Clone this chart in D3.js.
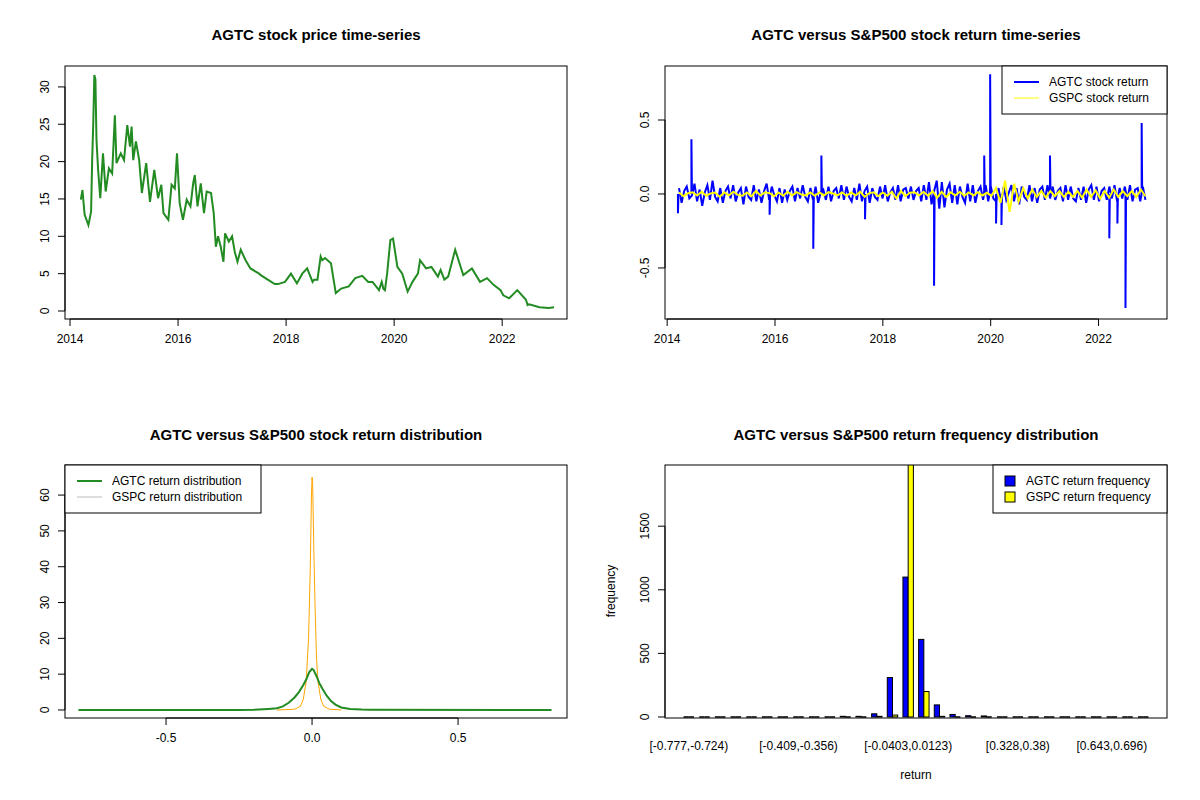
<!DOCTYPE html>
<html><head><meta charset="utf-8">
<script src="https://cdn.jsdelivr.net/npm/d3@7"></script>
<style>body{margin:0;background:#fff}text{font-family:"Liberation Sans",Arial,sans-serif}</style>
</head><body><svg id="c" width="1200" height="800"></svg>
<script>
// price series (year fraction, price)
var priceDates = [2014.2,2014.23,2014.27,2014.34,2014.39,2014.41,2014.43,2014.45,2014.47,2014.49,2014.52,2014.56,2014.61,2014.66,2014.72,2014.78,2014.83,2014.86,2014.94,2015.0,2015.06,2015.11,2015.14,2015.17,2015.22,2015.28,2015.33,2015.41,2015.48,2015.56,2015.63,2015.69,2015.73,2015.82,2015.88,2015.94,2015.98,2016.03,2016.09,2016.16,2016.23,2016.28,2016.31,2016.36,2016.42,2016.48,2016.53,2016.61,2016.66,2016.7,2016.74,2016.79,2016.84,2016.87,2016.94,2017.0,2017.05,2017.1,2017.16,2017.25,2017.34,2017.5,2017.53,2017.66,2017.79,2017.85,2017.98,2018.09,2018.2,2018.3,2018.39,2018.49,2018.52,2018.58,2018.64,2018.67,2018.72,2018.83,2018.92,2019.02,2019.16,2019.28,2019.41,2019.52,2019.6,2019.72,2019.77,2019.8,2019.83,2019.87,2019.93,2019.98,2020.06,2020.15,2020.25,2020.34,2020.44,2020.48,2020.59,2020.69,2020.81,2020.86,2020.93,2021.0,2021.13,2021.28,2021.44,2021.59,2021.72,2021.84,2021.97,2022.02,2022.13,2022.28,2022.44,2022.47,2022.5,2022.69,2022.86,2022.96];
var priceValues = [14.9,16.2,12.9,11.5,13.3,20.2,25.1,31.6,31,22.9,18.9,15.1,21.1,16,19.1,18.4,26.2,19.8,21.1,20.2,24.9,22,24.7,20.2,22.7,20.2,15.8,19.8,14.6,18.9,15.1,16.9,13.1,12.2,16.9,16.4,21.1,14.4,12.2,14.9,14,17.1,18.2,14,17.1,13.1,16,15.8,13.1,8.6,10,8.6,6.6,10.4,9.3,10,7.9,6.6,8.2,6.8,5.7,5,4.8,4.2,3.6,3.6,3.9,5,3.7,5,5.7,3.9,4.2,4.2,7.3,6.8,7.1,6.4,2.4,3,3.3,4.4,4.7,3.9,3.9,2.8,3.9,3,2.8,5,9.5,9.7,5.9,5,2.6,3.9,5,6.8,5.7,5.9,4.6,5.5,4.2,4.6,8.2,4.8,5.7,3.9,4.4,3.5,2.8,2.1,1.7,2.8,1.5,0.8,0.9,0.5,0.4,0.5];

// daily return band (spread evenly over the sampled period)
var retStart = 2014.22, retEnd = 2022.87;
var agtcNoise = [0.04,-0.06,0.02,0.05,-0.03,-0.01,0.07,-0.05,0.03,-0.08,0.01,0.06,-0.04,0.09,-0.02,-0.05,0.04,-0.06,0.02,0.05,-0.03,0.06,-0.05,0.01,0.04,-0.07,0.05,-0.02,-0.04,0.06,-0.05,0.03,-0.06,0.02,0.07,-0.04,0.05,-0.01,-0.05,0.04,-0.06,0.03,-0.04,0.02,0.05,-0.05,0.04,-0.03,0.06,-0.02,-0.05,0.04,-0.04,0.05,-0.06,0.01,0.03,-0.04,0.05,-0.05,0.02,0.04,-0.03,0.06,-0.04,0.05,-0.02,-0.05,0.04,-0.04,0.07,-0.05,0.02,0.05,-0.06,0.04,-0.02,-0.04,0.05,-0.03,0.06,-0.05,0.01,0.04,-0.04,0.06,-0.05,0.03,0.04,-0.03,0.05,-0.04,0.02,0.04,-0.05,0.06,-0.04,0.08,-0.07,0.02,0.09,-0.1,0.08,-0.09,0.03,0.07,-0.06,0.06,-0.07,0.05,-0.02,-0.06,0.07,-0.05,0.06,-0.06,0.02,0.05,-0.04,0.06,-0.05,0.05,-0.03,-0.05,0.04,-0.06,0.05,-0.04,0.01,0.06,-0.05,0.04,-0.07,0.05,-0.02,-0.04,0.06,-0.05,0.04,-0.06,0.03,0.05,-0.04,0.06,-0.03,0.05,-0.04,0.02,0.04,-0.05,0.06,-0.04,0.05,-0.03,-0.05,0.04,-0.04,0.05,-0.06,0.03,0.06,-0.04,0.05,-0.05,0.02,0.04,-0.04,0.05,-0.03,0.06,-0.05,0.04,-0.03,0.05,-0.04,0.06,-0.05,0.03,0.04,-0.05,0.05,-0.04];
var gspcNoise = [0.01,-0.015,0.005,0.012,-0.01,0.015,-0.012,0.004,0.01,-0.02,0.012,-0.01,0.015,-0.006,-0.012,0.01,-0.015,0.02,-0.01,0.012,0.005,-0.015,0.01,-0.012,0.015,-0.01,0.012,-0.004,-0.01,0.01,-0.012,0.01,-0.01,0.012,0.003,-0.01,0.01,-0.012,0.01,-0.01,0.015,-0.02,0.006,0.012,-0.015,0.01,-0.012,0.015,-0.03,0.02,-0.015,0.008,0.012,-0.01,0.015,-0.012,0.02,-0.025,0.015,-0.02,0.012,-0.01,0.015,-0.012,0.01,-0.01,0.012,-0.01,0.008,-0.012,0.04,-0.06,0.09,-0.12,0.07,-0.05,0.04,-0.03,0.03,-0.02,0.02,-0.025,0.02,-0.015,0.02,-0.02,0.015,-0.02,0.02,-0.025,0.03,-0.02,0.025,-0.03,0.02,-0.025,0.03,-0.02,0.02,-0.015,0.02,-0.02,0.03,-0.015];
var agtcSpikeDates = [2014.2,2014.45,2015.9,2016.71,2016.86,2017.67,2018.95,2019.88,2019.99,2020.1,2020.2,2021.1,2022.2,2022.5,2022.8,2022.35];
var agtcSpikeValues = [-0.13,0.37,-0.14,-0.37,0.26,-0.17,-0.62,0.26,0.81,-0.2,-0.21,0.26,-0.3,-0.77,0.48,-0.2];

// density curves
var agtcDensX = [-0.8,-0.25,-0.2,-0.15,-0.12,-0.1,-0.08,-0.06,-0.045,-0.03,-0.02,-0.01,0,0.005,0.015,0.025,0.035,0.05,0.065,0.08,0.1,0.13,0.17,0.2,0.82];
var agtcDensY = [0,0,0.05,0.3,0.5,1,2,3.5,5,7,8.5,10.5,11.5,11.2,9.5,7.5,6,4,2.5,1.5,0.7,0.3,0.1,0.05,0];
var gspcDensX = [-0.12,-0.06,-0.04,-0.03,-0.02,-0.012,-0.006,-0.002,0,0.002,0.006,0.01,0.015,0.02,0.03,0.04,0.06,0.1];
var gspcDensY = [0,0.2,1,3,8,20,40,60,65,63,45,30,15,8,3,1,0.2,0];

// histogram, 30 bins
var agtcFreq = [0,0,0,0,0,0,0,0,0,0,5,5,25,310,1100,610,95,20,10,8,0,0,0,0,0,0,0,0,0,0];
var gspcFreq = [0,0,0,0,0,0,0,0,0,0,0,0,5,15,1990,200,5,0,0,0,0,0,0,0,0,0,0,0,0,0];
var binTicks = [0,7,14,21,27];
var binTickLabels = ["[-0.777,-0.724)","[-0.409,-0.356)","[-0.0403,0.0123)","[0.328,0.38)","[0.643,0.696)"];

var svg = d3.select("#c");

function rAxes(g, x, y, xt, yt, W, H, xfmt, noXLine) {
    g.append("rect").attr("width", W).attr("height", H).attr("fill", "none").attr("stroke", "#000");
    var xa = g.append("g").attr("transform", "translate(0," + H + ")");
    if (!noXLine) xa.append("line").attr("x1", x(xt[0])).attr("x2", x(xt[xt.length - 1])).attr("y1", 0).attr("y2", 0).attr("stroke", "#000");
    xt.forEach(function(t, i) {
        if (!noXLine) xa.append("line").attr("x1", x(t)).attr("x2", x(t)).attr("y1", 0).attr("y2", 7).attr("stroke", "#000");
        xa.append("text").attr("x", x(t)).attr("y", noXLine ? 32 : 24).attr("text-anchor", "middle").attr("font-size", 12).text(xfmt ? xfmt(t, i) : t);
    });
    var ya = g.append("g");
    ya.append("line").attr("y1", y(yt[0])).attr("y2", y(yt[yt.length - 1])).attr("x1", 0).attr("x2", 0).attr("stroke", "#000");
    yt.forEach(function(t) {
        ya.append("line").attr("y1", y(t)).attr("y2", y(t)).attr("x1", 0).attr("x2", -7).attr("stroke", "#000");
        ya.append("text").attr("transform", "translate(-16," + y(t) + ") rotate(-90)").attr("text-anchor", "middle").attr("font-size", 12).text(t);
    });
}
function title(x, y, s) {
    svg.append("text").attr("x", x).attr("y", y).attr("text-anchor", "middle").attr("font-size", 15).attr("font-weight", "bold").text(s);
}
function legend(g, x, y, w, items, box) {
    g.append("rect").attr("x", x).attr("y", y).attr("width", w).attr("height", 48).attr("fill", "#fff").attr("stroke", "#000");
    items.forEach(function(it, i) {
        var cy = y + 16 + i * 16;
        if (box) g.append("rect").attr("x", x + 12).attr("y", cy - 5).attr("width", 10).attr("height", 10).attr("fill", it.c).attr("stroke", "#000");
        else g.append("line").attr("x1", x + 12).attr("x2", x + 37).attr("y1", cy).attr("y2", cy).attr("stroke", it.c).attr("stroke-width", it.w);
        g.append("text").attr("x", x + (box ? 33 : 47)).attr("y", cy + 4).attr("font-size", 12).text(it.t);
    });
}
var W = 502, H = 253;

// panel 1
var g1 = svg.append("g").attr("transform", "translate(65,66)");
var x1 = d3.scaleLinear().domain([2013.907, 2023.2]).range([0, W]);
var y1 = d3.scaleLinear().domain([-1.07, 32.8]).range([H, 0]);
g1.append("path").datum(d3.zip(priceDates, priceValues)).attr("fill", "none").attr("stroke", "#228B22").attr("stroke-width", 2)
  .attr("d", d3.line().x(function(d) { return x1(d[0]); }).y(function(d) { return y1(d[1]); }));
rAxes(g1, x1, y1, [2014, 2016, 2018, 2020, 2022], [0, 5, 10, 15, 20, 25, 30], W, H);
title(316, 40, "AGTC stock price time-series");

// panel 2
var g2 = svg.append("g").attr("transform", "translate(665,66)");
var x2 = d3.scaleLinear().domain([2013.96, 2023.27]).range([0, W]);
var y2 = d3.scaleLinear().domain([-0.845, 0.865]).range([H, 0]);
var line2 = d3.line().x(function(d) { return x2(d[0]); }).y(function(d) { return y2(d[1]); });
function spread(a) {
    return a.map(function(v, i) { return [retStart + (retEnd - retStart) * i / (a.length - 1), v]; });
}
g2.append("path").datum(spread(agtcNoise)).attr("fill", "none").attr("stroke", "#0000FF").attr("stroke-width", 2).attr("d", line2);
agtcSpikeDates.forEach(function(dt, i) {
    g2.append("path").datum([[dt, 0], [dt, agtcSpikeValues[i]], [dt + 0.01, 0]]).attr("fill", "none").attr("stroke", "#0000FF").attr("stroke-width", 2).attr("d", line2);
});
g2.append("path").datum(spread(gspcNoise)).attr("fill", "none").attr("stroke", "#FFFF00").attr("stroke-width", 2).attr("d", line2);
rAxes(g2, x2, y2, [2014, 2016, 2018, 2020, 2022], [-0.5, 0.0, 0.5], W, H);
g2.selectAll("text").filter(function() { return this.textContent === "0"; }).text("0.0");
legend(g2, 337, 0, 165, [{t: "AGTC stock return", c: "#0000FF", w: 2}, {t: "GSPC stock return", c: "#FFFF00", w: 1}]);
title(916, 40, "AGTC versus S&P500 stock return time-series");

// panel 3
var g3 = svg.append("g").attr("transform", "translate(65,465)");
var x3 = d3.scaleLinear().domain([-0.846, 0.873]).range([0, W]);
var y3 = d3.scaleLinear().domain([-2.24, 68.4]).range([H, 0]);
var line3 = d3.line().x(function(d) { return x3(d[0]); }).y(function(d) { return y3(d[1]); });
g3.append("path").datum(d3.zip(gspcDensX, gspcDensY)).attr("fill", "none").attr("stroke", "orange").attr("stroke-width", 1).attr("d", line3);
g3.append("path").datum(d3.zip(agtcDensX, agtcDensY)).attr("fill", "none").attr("stroke", "#228B22").attr("stroke-width", 2).attr("d", line3);
rAxes(g3, x3, y3, [-0.5, 0, 0.5], [0, 10, 20, 30, 40, 50, 60], W, H, function(t) { return t === 0 ? "0.0" : t; });
legend(g3, 0, 0, 196, [{t: "AGTC return distribution", c: "#228B22", w: 2}, {t: "GSPC return distribution", c: "#bbb", w: 1}]);
title(316, 440, "AGTC versus S&P500 stock return distribution");

// panel 4
var g4 = svg.append("g").attr("transform", "translate(665,465)");
var x4 = d3.scaleLinear().domain([-2.56, 93.56]).range([0, W]);
var y4 = d3.scaleLinear().domain([-8, 1981]).range([H, 0]);
g4.append("clipPath").attr("id", "clip4").append("rect").attr("width", W).attr("height", H);
var bars = g4.append("g").attr("clip-path", "url(#clip4)");
[agtcFreq, gspcFreq].forEach(function(series, k) {
    bars.selectAll(null).data(series).enter().append("rect")
      .attr("x", function(d, i) { return x4(3 * i + 1 + k); })
      .attr("width", x4(1) - x4(0))
      .attr("y", function(d) { return y4(d); })
      .attr("height", function(d) { return y4(0) - y4(d); })
      .attr("fill", k ? "#FFFF00" : "#0000FF").attr("stroke", "#000").attr("stroke-width", 1);
    // empty bins still show their outline as a flat dash
    bars.selectAll(null).data(series).enter().filter(function(d) { return d === 0; }).append("line")
      .attr("x1", function(d, i) { return x4(3 * series.indexOf(d, 0) + 1 + k); });
});
bars.selectAll("line").remove();
[agtcFreq, gspcFreq].forEach(function(series, k) {
    series.forEach(function(d, i) {
        if (d !== 0) return;
        bars.append("line").attr("x1", x4(3 * i + 1 + k)).attr("x2", x4(3 * i + 2 + k))
          .attr("y1", y4(0)).attr("y2", y4(0)).attr("stroke", "#000").attr("stroke-width", 1.5);
    });
});
rAxes(g4, function(b) { return x4(3 * b + 2); }, y4, binTicks, [0, 500, 1000, 1500], W, H, function(t, i) { return binTickLabels[i]; }, true);
legend(g4, 328, 0, 174, [{t: "AGTC return frequency", c: "#0000FF"}, {t: "GSPC return frequency", c: "#FFFF00"}], true);
svg.append("text").attr("x", 916).attr("y", 779).attr("text-anchor", "middle").attr("font-size", 12).text("return");
svg.append("text").attr("transform", "translate(615,591) rotate(-90)").attr("text-anchor", "middle").attr("font-size", 12).text("frequency");
title(916, 440, "AGTC versus S&P500 return frequency distribution");
</script></body></html>
